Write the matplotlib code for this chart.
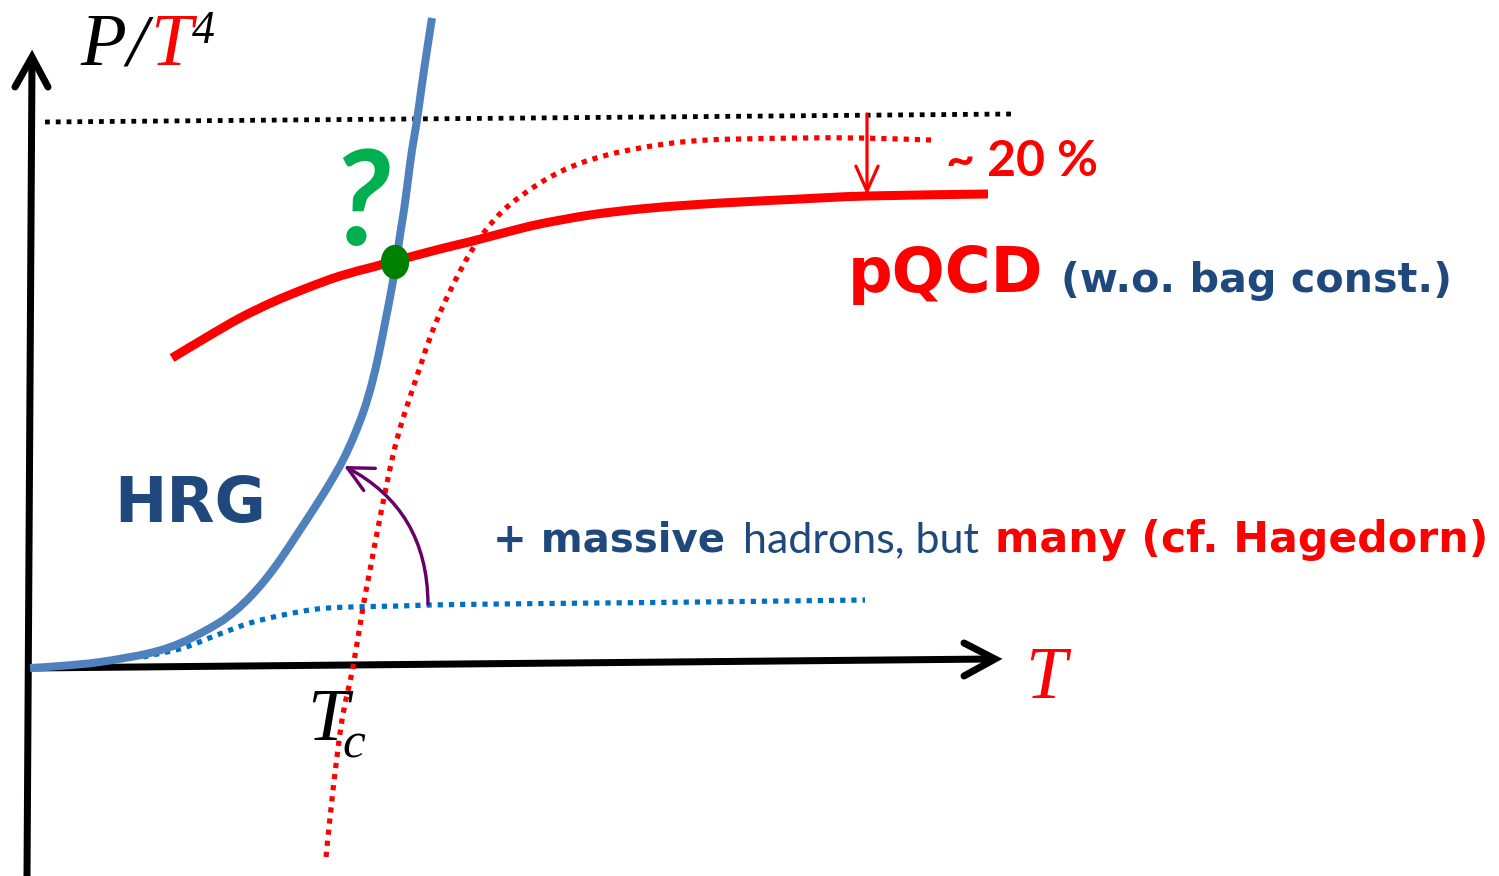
import matplotlib
matplotlib.use('Agg')
import numpy as np
import matplotlib.pyplot as plt
from matplotlib.patches import FancyArrowPatch, Ellipse, PathPatch
from matplotlib.path import Path

# ---------------- data (schematic curves, in picture units) ----------------
hrg_T = [30, 60, 100, 150, 183, 217, 235, 250, 265, 280, 298, 315, 330, 343, 354, 364,
         372, 379, 385, 391, 396, 400, 404, 408, 412, 417, 424, 432]
hrg_P = [668, 666, 662, 653, 642, 624, 611, 597, 580, 560, 533, 507, 483, 460, 436, 410,
         383, 353, 323, 292, 263, 235, 210, 180, 150, 120, 70, 18]

hrg_dot_T = [143, 183, 217, 250, 283, 317, 350, 400, 430, 500, 600, 700, 865]
hrg_dot_P = [657, 648, 635, 623, 615, 609, 607, 606, 605, 604, 603, 602, 600]

lat_T = [326, 333, 342, 353, 363, 370, 377, 385, 393, 401, 410, 420, 431,
         443, 456, 469, 485, 507, 540, 573, 607, 640, 673, 707, 740, 800, 860, 931]
lat_P = [857, 790, 720, 667, 607, 570, 533, 493, 455, 425, 397, 367, 335,
         306, 279, 255, 231, 207, 183, 166, 155, 148, 143, 140, 139, 138, 138, 140]

pqcd_T = [172, 207, 240, 273, 307, 340, 373, 395, 440, 473, 507, 540, 590, 640, 690,
          740, 800, 867, 988]
pqcd_P = [358, 337, 318, 302, 288, 276, 267, 261, 249, 241, 232, 224, 215, 209, 205,
          202, 199, 196, 194]

sb_T = [45, 1012]
sb_P = [122, 114]

yaxis_T = [27, 32]
yaxis_P = [876, 60]
xaxis_T = [30, 993]
xaxis_P = [668, 659]

cross_T, cross_P = 395, 262

W, H = 1499, 876
fig = plt.figure(figsize=(W / 100, H / 100), dpi=100)
ax = fig.add_axes([0, 0, 1, 1])
ax.set_xlim(0, W)
ax.set_ylim(H, 0)
ax.axis('off')

PX = 0.72  # points per pixel

BLUE = '#4F81BD'
DBLUE = '#1F497D'
DOTBLUE = '#0070C0'
RED = '#FF0000'


def smooth_path(xs, ys):
    pts = np.column_stack([xs, ys]).astype(float)
    n = len(pts)
    verts = [pts[0]]
    codes = [Path.MOVETO]
    for i in range(n - 1):
        p0 = pts[i - 1] if i > 0 else pts[i]
        p1 = pts[i]
        p2 = pts[i + 1]
        p3 = pts[i + 2] if i + 2 < n else pts[i + 1]
        verts += [p1 + (p2 - p0) / 6.0, p2 - (p3 - p1) / 6.0, p2]
        codes += [Path.CURVE4] * 3
    return Path(verts, codes)


def curve(xs, ys, color, lw, ls='-', z=2):
    ax.add_patch(PathPatch(smooth_path(xs, ys), fill=False, edgecolor=color, lw=lw,
                           linestyle=ls, capstyle='butt', joinstyle='round', zorder=z))


# axes
ax.plot(yaxis_T, yaxis_P, color='black', lw=7 * PX, solid_capstyle='butt')
ax.plot([15, 32, 48], [87, 57, 87], color='black', lw=7 * PX,
        solid_capstyle='round', solid_joinstyle='miter')
ax.plot(xaxis_T, xaxis_P, color='black', lw=7 * PX, solid_capstyle='butt')
ax.plot([964, 995, 964], [643, 659, 676], color='black', lw=7 * PX,
        solid_capstyle='round', solid_joinstyle='miter')

# Stefan-Boltzmann limit
ax.plot(sb_T, sb_P, color='black', lw=4.8 * PX, ls=(0, (1.0, 1.25)),
        dash_capstyle='butt')

# lattice-like dotted red
curve(lat_T, lat_P, RED, 5.2 * PX, (0, (1.0, 1.15)))

# HRG dotted (few hadrons)
curve(hrg_dot_T, hrg_dot_P, DOTBLUE, 5.2 * PX, (0, (1.0, 1.15)))

# pQCD solid red
curve(pqcd_T, pqcd_P, RED, 9 * PX, '-', 3)

# HRG solid
curve(hrg_T, hrg_P, BLUE, 8 * PX, '-', 3)

# ~20% arrow
ax.add_patch(FancyArrowPatch((867, 114), (867, 195), arrowstyle='->,head_length=18,head_width=8',
                             color=RED, lw=3.2 * PX, mutation_scale=1, shrinkA=0, shrinkB=0,
                             zorder=4))

# purple arrow
ax.add_patch(FancyArrowPatch((428, 604), (344, 466), connectionstyle='arc3,rad=0.3',
                             arrowstyle='->,head_length=18,head_width=9', color='#660066',
                             lw=3.4 * PX, mutation_scale=1, shrinkA=0, shrinkB=0, zorder=4))

# crossing point
ax.add_patch(Ellipse((cross_T, cross_P), 27, 33, color='#008000', zorder=5))

# ---------------- text ----------------
SANS = 'Lato'
BOLD = 'DejaVu Sans'
SERIF = 'Liberation Serif'

ax.text(361, 245, '?', color='#00B050', fontsize=96, fontweight='bold', style='italic',
        family=SANS, ha='center', va='baseline')

# P/T^4
ax.text(80, 65, 'P', family=SERIF, style='italic', fontsize=54, color='black',
        ha='left', va='baseline')
ax.text(126, 65, '/', family=SERIF, style='italic', fontsize=54, color='black',
        ha='left', va='baseline')
ax.text(150, 65, 'T', family=SERIF, style='italic', fontsize=54, color=RED,
        ha='left', va='baseline')
ax.text(192, 43, '4', family=SERIF, style='italic', fontsize=33, color='black',
        ha='left', va='baseline')

ax.text(1025, 698, 'T', family=SERIF, style='italic', fontsize=53, color=RED,
        ha='left', va='baseline')
ax.text(307, 740, 'T', family=SERIF, style='italic', fontsize=53, color='black',
        ha='left', va='baseline')
ax.text(342, 757, 'c', family=SERIF, style='italic', fontsize=37, color='black',
        ha='left', va='baseline')

ax.text(114, 522, 'HRG', family=BOLD, fontweight='bold', fontsize=45, color=DBLUE,
        ha='left', va='baseline')

ax.text(848, 292, 'pQCD', family=BOLD, fontweight='bold', fontsize=45, color=RED,
        ha='left', va='baseline')
ax.text(1061, 292, '(w.o. bag const.)', family=BOLD, fontweight='bold', fontsize=29.7,
        color=DBLUE, ha='left', va='baseline')

ax.text(946, 176, '~ 20 %', family=SANS, fontweight='bold', fontsize=36, color=RED,
        ha='left', va='baseline')

ax.text(493, 552, '+ massive', family=BOLD, fontweight='bold', fontsize=29, color=DBLUE,
        ha='left', va='baseline')
ax.text(743, 552, 'hadrons, but', family=SANS, fontweight='normal', fontsize=31,
        color=DBLUE, ha='left', va='baseline')
ax.text(995, 552, 'many (cf. Hagedorn)', family=BOLD, fontweight='bold', fontsize=30.7,
        color=RED, ha='left', va='baseline')

fig.savefig('out.png', dpi=100, facecolor='white')
